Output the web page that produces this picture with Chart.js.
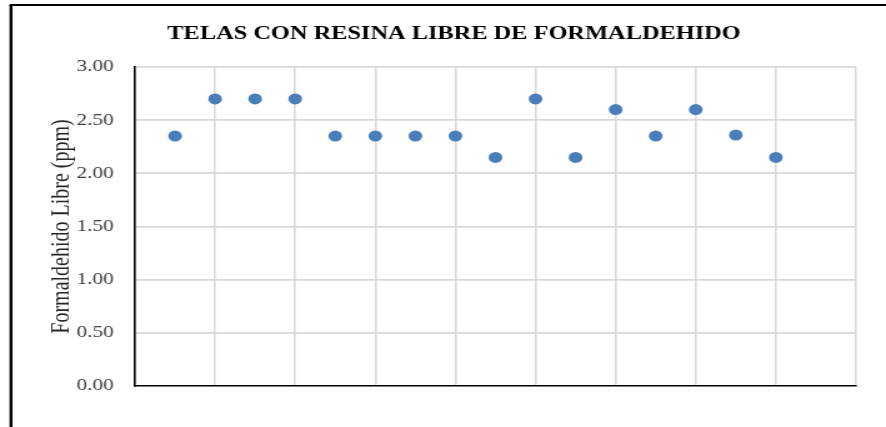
<!DOCTYPE html>
<html lang="es">
<head>
<meta charset="utf-8">
<title>Telas con resina libre de formaldehido</title>
<script src="https://cdn.jsdelivr.net/npm/chart.js@4/dist/chart.umd.min.js"></script>
<style>
    html, body { margin: 0; padding: 0; background: #ffffff; overflow: hidden; }
    /* la figura original viene estirada en horizontal: se dibuja a 709px y se estira a 886px */
    #marco {
        position: relative;
        width: 709px;
        height: 427px;
        transform: scaleX(1.2496);
        transform-origin: 0 0;
    }
</style>
</head>
<body>
<div id="marco">
    <canvas id="graficoDispersion"></canvas>
</div>
<script>
// ==========================================================================
// DATOS DEL GRÁFICO
// ==========================================================================
const titulo = "TELAS CON RESINA LIBRE DE FORMALDEHIDO";
const tituloEjeY = "Formaldehido Libre (ppm)";
const muestras = [1, 2, 3, 4, 5, 6, 7, 8, 9, 10, 11, 12, 13, 14, 15, 16];
const formaldehidoLibre = [2.35, 2.70, 2.70, 2.70, 2.35, 2.35, 2.35, 2.35, 2.15, 2.70, 2.15, 2.60, 2.35, 2.60, 2.36, 2.15];
const ticksY = [0.00, 0.50, 1.00, 1.50, 2.00, 2.50, 3.00];

const FUENTE = "'Liberation Serif', 'Times New Roman', serif";
const GRIS_GRILLA = '#d9d9d9';

// Marco negro exterior y título centrado sobre la figura
const pluginMarco = {
    id: 'marcoYTitulo',
    beforeDraw(chart) {
        const ctx = chart.ctx;
        ctx.save();
        ctx.strokeStyle = '#000000';
        ctx.lineWidth = 2.4;
        ctx.beginPath();
        ctx.moveTo(8.8, chart.height + 5);
        ctx.lineTo(8.8, 5);
        ctx.stroke();
        ctx.lineWidth = 2;
        ctx.beginPath();
        ctx.moveTo(7.6, 5);
        ctx.lineTo(chart.width + 5, 5);
        ctx.stroke();

        ctx.fillStyle = '#000000';
        ctx.font = "bold 19.5px " + FUENTE;
        ctx.textAlign = 'center';
        ctx.textBaseline = 'alphabetic';
        ctx.fillText(titulo, 363.3, 38.5);
        ctx.restore();
    }
};

const puntos = muestras.map((x, i) => ({ x: x, y: formaldehidoLibre[i] }));

const ctxDisp = document.getElementById('graficoDispersion').getContext('2d');
new Chart(ctxDisp, {
    type: 'scatter',
    data: {
        datasets: [{
            label: tituloEjeY,
            data: puntos,
            backgroundColor: '#4a7ebb',
            borderColor: '#4a7ebb',
            borderWidth: 0,
            pointRadius: 5.5,
            pointHoverRadius: 5.5
        }]
    },
    options: {
        responsive: true,
        maintainAspectRatio: false,
        animation: false,
        layout: {
            padding: { top: 67, right: 24, bottom: 41, left: 0 }
        },
        plugins: {
            legend: { display: false },
            title: { display: false },
            tooltip: { enabled: false }
        },
        scales: {
            x: {
                type: 'linear',
                min: 0,
                max: 18,
                ticks: { display: false, stepSize: 2 },
                grid: {
                    drawTicks: false,
                    lineWidth: 1.6,
                    color: c => (c.tick && c.tick.value === 0) ? 'rgba(0,0,0,0)' : GRIS_GRILLA
                },
                border: { display: true, color: '#000000', width: 1.6 }
            },
            y: {
                min: 0,
                max: 3,
                afterBuildTicks: escala => {
                    escala.ticks = ticksY.map(v => ({ value: v }));
                },
                afterFit: escala => { escala.width = 108; },
                ticks: {
                    padding: 17,
                    color: '#404040',
                    font: { family: FUENTE, size: 17 },
                    callback: v => Number(v).toFixed(2)
                },
                grid: {
                    drawTicks: false,
                    lineWidth: 1.8,
                    color: c => (c.tick && c.tick.value === 0) ? 'rgba(0,0,0,0)' : GRIS_GRILLA
                },
                border: { display: true, color: '#000000', width: 1.6 },
                title: {
                    display: true,
                    text: tituloEjeY,
                    color: '#262626',
                    font: { family: FUENTE, size: 20 },
                    padding: { top: 38, bottom: 0 }
                }
            }
        }
    },
    plugins: [pluginMarco]
});
</script>
</body>
</html>
